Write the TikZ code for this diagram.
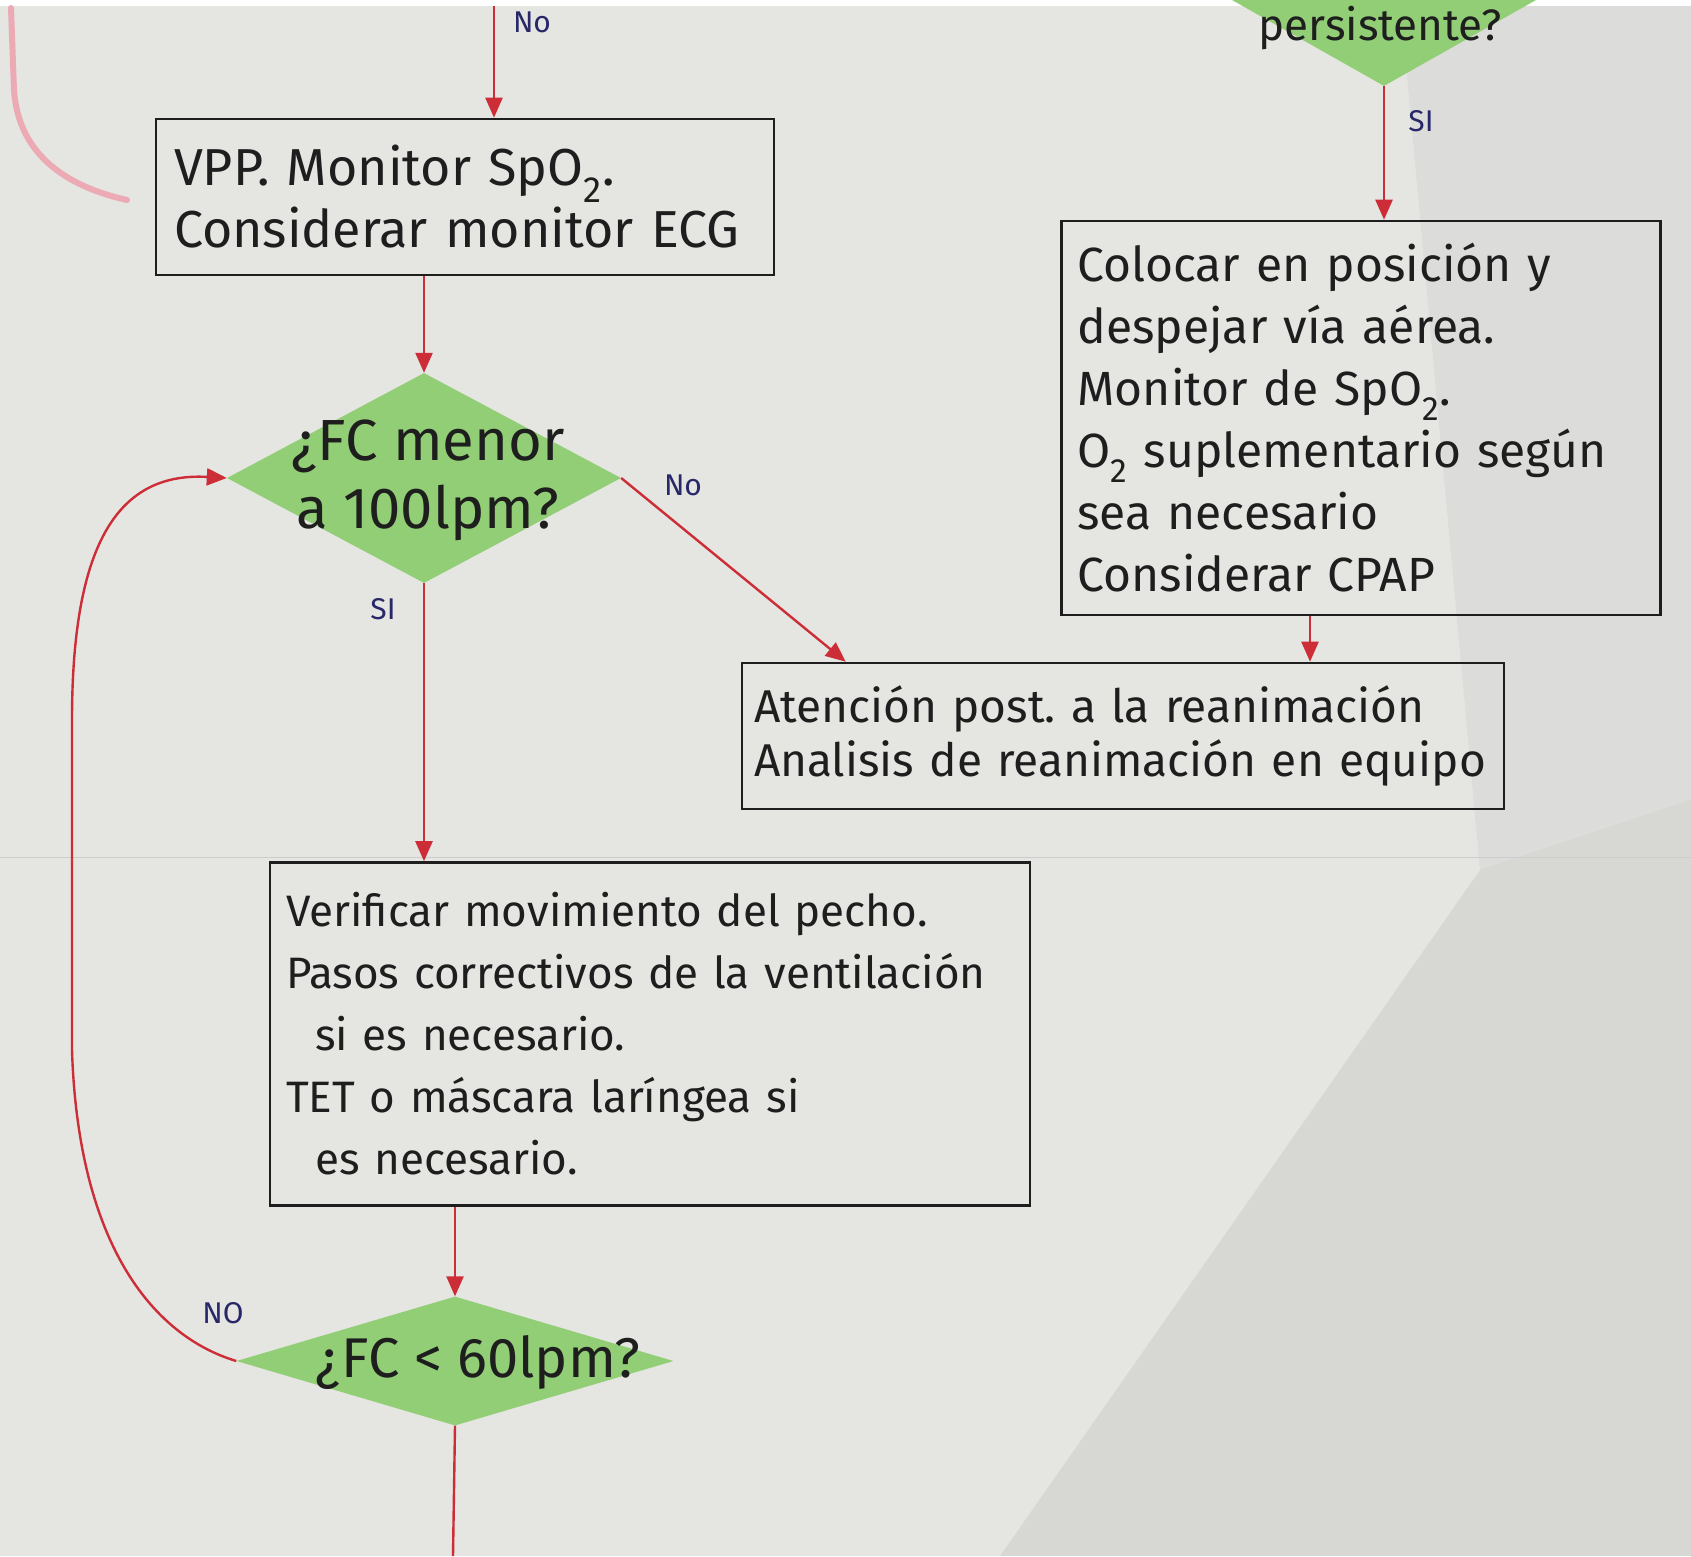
\documentclass[tikz,border=0pt]{standalone}
\usepackage{fontspec}
\setmainfont{Fira Sans}
\usetikzlibrary{shapes.geometric,arrows.meta,calc}
\definecolor{paper}{RGB}{229,229,226}
\definecolor{pen}{RGB}{205,45,55}
\definecolor{mark}{RGB}{146,206,118}
\definecolor{ink}{RGB}{30,30,30}
\definecolor{navy}{RGB}{40,40,105}
\definecolor{ghost}{RGB}{236,170,180}
\frenchspacing
\begin{document}
\frenchspacing
\begin{tikzpicture}[x=1pt,y=-1pt,
  box/.style={draw=ink,line width=2.6pt,rectangle,inner ysep=0pt,text=ink,align=left},
  dia/.style={diamond,fill=mark,draw=none,inner sep=0pt},
  diatext/.style={text=ink,align=center},
  flow/.style={draw=pen,line width=2.4pt,-{Triangle[length=20pt,width=17pt]}},
  plain/.style={draw=pen,line width=2.4pt},
  lbl/.style={text=navy,font=\fontsize{30}{30}\selectfont}]
\useasboundingbox (0,0) rectangle (1691,1556);
\clip (0,0) rectangle (1691,1556);
% paper
\fill[paper] (0,0) rectangle (1691,1556);
\fill[black,opacity=0.06] (1000,1556) -- (1480,870) -- (1691,800) -- (1691,1556) -- cycle;
\fill[black,opacity=0.035] (1400,0) -- (1691,0) -- (1691,800) -- (1480,870) -- cycle;
\draw[gray!40,line width=1pt] (0,857) -- (1691,857);
\fill[white] (0,0) rectangle (1691,6);
% ghost stroke
\draw[ghost,line width=6pt,line cap=round] (11,8) -- (14,90) .. controls (18,150) and (60,185) .. (127,200);

% nodes
\node[box,minimum width=618pt,minimum height=156pt,inner xsep=18pt,text width=582pt,font=\fontsize{52}{62}\selectfont] (vpp) at (465,197)
  {VPP. Monitor SpO\textsubscript{2}.\\Considerar monitor ECG};
\node[dia,minimum width=394pt,minimum height=210pt] (d1) at (424,478) {};
\node[diatext,font=\fontsize{58}{68}\selectfont] (d1t) at (428,480) {¿FC menor\\a 100lpm?};

\node[dia,minimum width=520pt,minimum height=294pt] (dp) at (1384,-61) {};
\node[diatext,font=\fontsize{44}{44}\selectfont,anchor=base] (dpt) at (1380,40) {persistente?};

\node[box,minimum width=599pt,minimum height=394pt,inner xsep=16pt,text width=567pt,font=\fontsize{48}{62}\selectfont] (col) at (1361,418)
  {Colocar en posición y\\despejar vía aérea.\\Monitor de SpO\textsubscript{2}.\\O\textsubscript{2} suplementario según\\sea necesario\\Considerar CPAP};

\node[box,minimum width=762pt,minimum height=146pt,inner xsep=12pt,text width=738pt,font=\fontsize{46}{54}\selectfont] (ate) at (1123,736)
  {Atención post. a la reanimación\\Analisis de reanimación en equipo};

\node[box,minimum width=760pt,minimum height=343pt,inner xsep=16pt,text width=728pt,font=\fontsize{44}{62}\selectfont] (ver) at (650,1034)
  {Verificar movimiento del pecho.\\Pasos correctivos de la ventilación\\\ \ si es necesario.\\TET o máscara laríngea si\\\ \ es necesario.};

\node[dia,minimum width=437pt,minimum height=129pt] (d2) at (455,1361) {};
\node[diatext,font=\fontsize{56}{56}\selectfont] (d2t) at (478,1362) {¿FC < 60lpm?};

% free ends
\coordinate (topin) at (494,6);
\coordinate (botout) at (453,1556);
\coordinate (ateA) at ($(ate.north west)+(105,0)$);
\coordinate (colB) at ($(col.south)+(-51,0)$);

% connectors
\draw[flow] (topin) -- (topin |- vpp.north);
\draw[flow] (d1.north |- vpp.south) -- (d1.north);
\draw[flow] (d1.east) -- (ateA);
\draw[flow] (d1.south) -- (d1.south |- ver.north);
\draw[flow] (dp.south) -- (dp.south |- col.north);
\draw[flow] (colB) -- (colB |- ate.north);
\draw[flow] (d2.north |- ver.south) -- (d2.north);
\draw[plain] (d2.south) -- (botout);
\draw[flow] (d2.west) .. controls (150,1335) and (78,1240) .. (72,1050) -- (72,720) .. controls (72,540) and (120,472) .. (d1.west);

% labels
\node[lbl] (l1) at (532,22) {No};
\node[lbl] (l2) at (1421,121) {SI};
\node[lbl] (l3) at (683,485) {No};
\node[lbl] (l4) at (383,609) {SI};
\node[lbl] (l5) at (223,1313) {NO};
\end{tikzpicture}
\end{document}
